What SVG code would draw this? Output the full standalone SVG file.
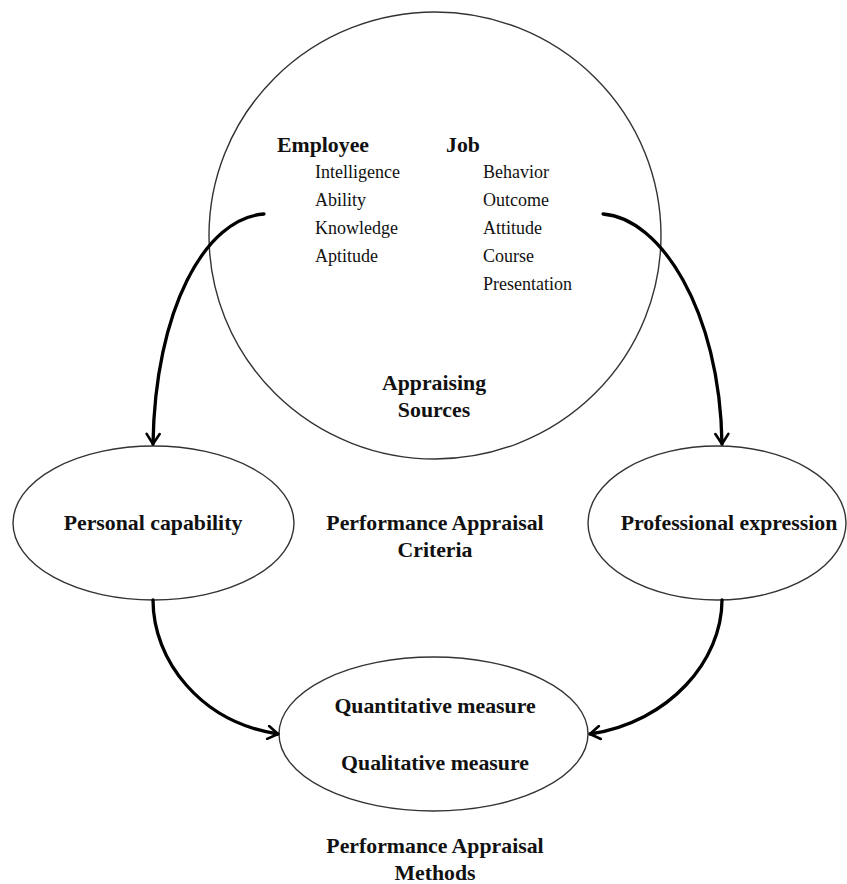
<svg xmlns="http://www.w3.org/2000/svg" width="847" height="884" viewBox="0 0 847 884">
  <style>
    .shape { fill: none; stroke: #333; stroke-width: 1.4; }
    .link { fill: none; stroke: #000; stroke-width: 3.3; stroke-linecap: round; }
    .head { font-family: "Liberation Serif", "Times New Roman", serif; font-weight: bold; font-size: 21.8px; fill: #111; }
    .item { font-family: "Liberation Serif", "Times New Roman", serif; font-size: 18px; fill: #111; }
    .mid { text-anchor: middle; }
  </style>
  <defs>
    <marker id="arrow" viewBox="0 0 14 16" refX="12" refY="8" markerWidth="14" markerHeight="16" markerUnits="userSpaceOnUse" orient="auto">
      <path d="M2,1.5 L12,8 L2,14.5" fill="none" stroke="#000" stroke-width="2.6" stroke-linecap="round" stroke-linejoin="round"/>
    </marker>
  </defs>
  <rect width="847" height="884" fill="#fff"/>

  <g id="sources">
    <ellipse class="shape" cx="435" cy="235.5" rx="226" ry="223.5"/>
    <text class="head" x="277" y="152">Employee</text>
    <text class="item" x="315" y="178">Intelligence</text>
    <text class="item" x="315" y="206">Ability</text>
    <text class="item" x="315" y="234">Knowledge</text>
    <text class="item" x="315" y="262">Aptitude</text>
    <text class="head" x="446" y="152">Job</text>
    <text class="item" x="483" y="178">Behavior</text>
    <text class="item" x="483" y="206">Outcome</text>
    <text class="item" x="483" y="234">Attitude</text>
    <text class="item" x="483" y="262">Course</text>
    <text class="item" x="483" y="290">Presentation</text>
    <text class="head mid" x="434" y="390">Appraising</text>
    <text class="head mid" x="434" y="417">Sources</text>
  </g>

  <g id="personal">
    <ellipse class="shape" cx="153.5" cy="523" rx="140.5" ry="77"/>
    <text class="head mid" x="153" y="530">Personal capability</text>
  </g>

  <g id="criteria">
    <text class="head mid" x="435" y="530">Performance Appraisal</text>
    <text class="head mid" x="435" y="557">Criteria</text>
  </g>

  <g id="professional">
    <ellipse class="shape" cx="717" cy="523" rx="129" ry="77"/>
    <text class="head mid" x="729" y="530">Professional expression</text>
  </g>

  <g id="measures">
    <ellipse class="shape" cx="433.5" cy="734" rx="154.5" ry="77"/>
    <text class="head mid" x="435" y="713">Quantitative measure</text>
    <text class="head mid" x="435" y="770">Qualitative measure</text>
  </g>

  <g id="methods">
    <text class="head mid" x="435" y="853">Performance Appraisal</text>
    <text class="head mid" x="435" y="880">Methods</text>
  </g>

  <g id="connectors">
    <path class="link" marker-end="url(#arrow)" d="M264,214 C205,218 155,310 153,444"/>
    <path class="link" marker-end="url(#arrow)" d="M603,214 C660,218 720,310 722,444"/>
    <path class="link" marker-end="url(#arrow)" d="M153,600 C153,660 200,722 278,734"/>
    <path class="link" marker-end="url(#arrow)" d="M722,600 C722,660 670,722 590,734"/>
  </g>
</svg>
